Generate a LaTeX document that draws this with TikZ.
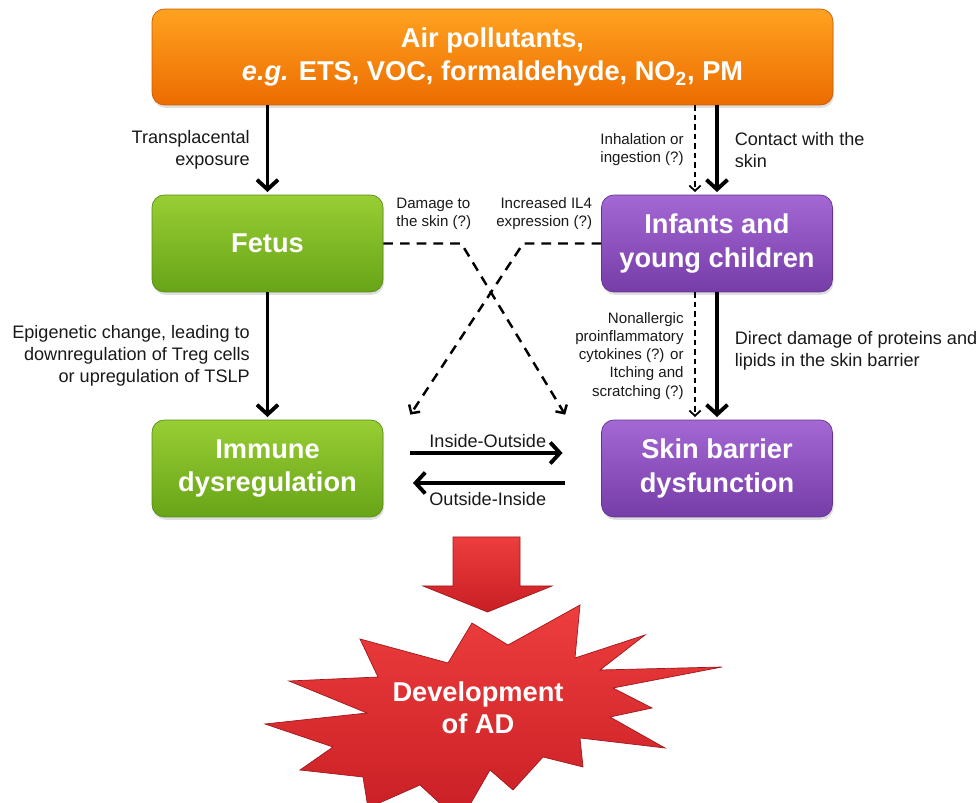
\documentclass[tikz,border=0pt]{standalone}
\usepackage{fontspec}
\setmainfont{Liberation Sans}
\usepackage{xcolor}
\usetikzlibrary{calc,arrows.meta,shadows}

\definecolor{airtop}{RGB}{255,162,32}
\definecolor{airbot}{RGB}{236,108,0}
\definecolor{grntop}{RGB}{152,206,52}
\definecolor{grnbot}{RGB}{104,164,24}
\definecolor{purtop}{RGB}{164,104,212}
\definecolor{purbot}{RGB}{118,60,168}
\definecolor{redtop}{RGB}{238,62,62}
\definecolor{redbot}{RGB}{200,30,36}
\definecolor{labeltext}{RGB}{25,25,25}

\begin{document}
\begin{tikzpicture}[x=0.02cm, y=-0.02cm,
    mainbox/.style={rounded corners=7pt, minimum width=4.62cm, minimum height=1.94cm, align=center, text=white, font=\fontsize{15.5}{19}\selectfont\bfseries, drop shadow={opacity=0.25, shadow xshift=0.6pt, shadow yshift=-1.6pt}},
    airbox/.style={mainbox, top color=airtop, bottom color=airbot, draw=airbot!85!black, minimum width=13.62cm, minimum height=1.92cm},
    greenbox/.style={mainbox, top color=grntop, bottom color=grnbot, draw=grnbot!85!black},
    purplebox/.style={mainbox, top color=purtop, bottom color=purbot, draw=purbot!85!black},
    redshape/.style={top color=redtop, bottom color=redbot, draw=redbot!80!black, line width=0.4pt, line join=miter},
    lbl/.style={font=\fontsize{10.3}{12.5}\selectfont, text=labeltext, inner sep=1pt},
    smalllbl/.style={font=\fontsize{8.6}{10.3}\selectfont, text=labeltext, inner sep=1pt},
    solidarr/.style={-{Straight Barb[length=5.5pt,width=12pt,line width=2.2pt]}, line width=2.2pt, shorten >=1.5pt},
    dasharr/.style={-{Straight Barb[length=3pt,width=6.5pt,line width=1pt]}, line width=1pt, dash pattern=on 3.2pt off 2.2pt, shorten >=1.5pt},
    crossarr/.style={-{Straight Barb[length=3.5pt,width=7.5pt,line width=1.4pt]}, line width=1.4pt, dash pattern=on 5.5pt off 4pt}]
\useasboundingbox (0,0) rectangle (978,803);
\clip (0,0) rectangle (978,803);

\node (air) [airbox] at (492.5,57) {Air pollutants,\\\textit{e.g.} ETS, VOC, formaldehyde, NO\textsubscript{2}, PM};
\node (fetus) [greenbox] at (267.5,243.5) {Fetus};
\node (infants) [purplebox] at (717,243.5) {Infants and\\young children};
\node (immune) [greenbox] at (267.5,468.5) {Immune\\dysregulation};
\node (skin) [purplebox] at (717,468.5) {Skin barrier\\dysfunction};

\coordinate (inh) at ($(infants.north)+(-22,0)$);
\coordinate (cyt) at ($(infants.south)+(-22,0)$);

\draw[solidarr] (fetus.north |- air.south) -- node[lbl, left=8pt, align=right] {Transplacental\\exposure} (fetus.north);
\draw[dasharr] (inh |- air.south) -- node[smalllbl, left=5pt, align=right] {Inhalation or\\ingestion (?)} (inh);
\draw[solidarr] (infants.north |- air.south) -- node[lbl, right=8pt, align=left] {Contact with the\\skin} (infants.north);

\draw[solidarr] (fetus) -- node[lbl, left=8pt, align=right] {Epigenetic change, leading to\\downregulation of Treg cells\\or upregulation of TSLP} (immune);
\draw[dasharr] (cyt) -- node[smalllbl, left=5pt, align=right] {Nonallergic\\proinflammatory\\cytokines (?) or\\Itching and\\scratching (?)} (cyt |- skin.north);
\draw[solidarr] (infants) -- node[lbl, right=8pt, align=left, yshift=3pt] {Direct damage of proteins and\\lipids in the skin barrier} (skin);

\draw[crossarr] (fetus.east) -- ++(78,0) -- ($(skin.north west)+(-36,-5)$);
\draw[crossarr] (infants.west) -- ++(-78,0) -- ($(immune.north east)+(27,-5)$);
\node (dmg) [smalllbl, anchor=west, align=left] at ($(fetus.east)+(11,-30)$) {Damage to\\the skin (?)};
\node (il4) [smalllbl, anchor=east, align=right] at ($(infants.west)+(-7,-30)$) {Increased IL4\\expression (?)};

\draw[solidarr] ($(immune.east)+(27,-15.5)$) -- node[lbl, above=1pt] {Inside-Outside} ($(skin.west)+(-36,-15.5)$);
\draw[solidarr] ($(skin.west)+(-36,14.5)$) -- node[lbl, below=3pt] {Outside-Inside} ($(immune.east)+(27,14.5)$);

\path[redshape] (453,537) -- (520,537) -- (520,586) -- (552,586) -- (487.5,612) -- (423,586) -- (453,586) -- cycle;

\path[redshape] (580,605) -- (575,658) -- (645,635) -- (600,670) -- (722,667) -- (613,688) -- (652,708) -- (610,717) -- (665,748) -- (580,738) -- (583,767) -- (543,757) -- (513,790) -- (490,770) -- (460,822) -- (420,785) -- (368,808) -- (363,777) -- (300,770) -- (333,747) -- (265,724) -- (367,713) -- (289,681) -- (378,677) -- (360,639) -- (448,663) -- (472,623) -- (508,645) -- cycle;
\node (ad) [text=white, align=center, font=\fontsize{15.5}{18}\selectfont\bfseries] at (478,708) {Development\\of AD};
\end{tikzpicture}
\end{document}
